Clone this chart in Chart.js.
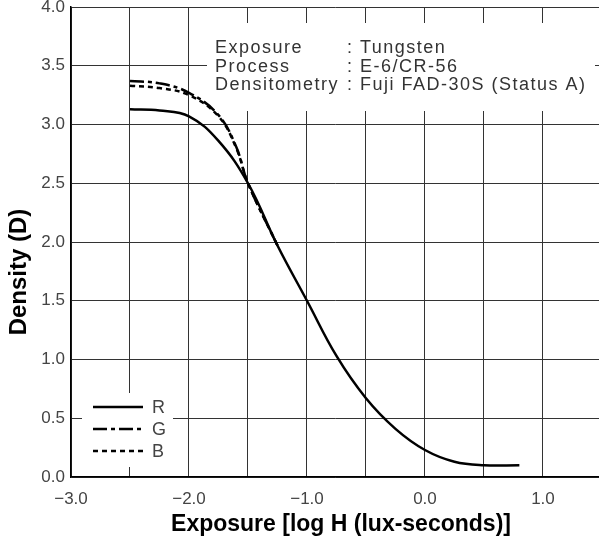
<!DOCTYPE html>
<html>
<head>
<meta charset="utf-8">
<script src="https://cdn.jsdelivr.net/npm/chart.js@4.4.1/dist/chart.umd.min.js"></script>
<style>
  html, body { margin: 0; padding: 0; background: #fff; }
  #wrap { width: 599px; height: 539px; position: relative; }
</style>
</head>
<body>
<div id="wrap"><canvas id="myChart"></canvas></div>
<script>
// characteristic curves
var rExposure = [-2.5, -2.25, -2.0, -1.75, -1.5, -1.25, -1.0, -0.75, -0.5, -0.25, 0.0, 0.25, 0.5, 0.8];
var rDensity  = [3.13, 3.12, 3.07, 2.86, 2.5, 1.97, 1.5, 1.03, 0.67, 0.41, 0.23, 0.13, 0.10, 0.10];
var gExposure = [-2.5, -2.25, -2.0, -1.75, -1.6, -1.5, -1.25];
var gDensity  = [3.37, 3.35, 3.27, 3.08, 2.81, 2.5, 1.97];
var bExposure = [-2.5, -2.25, -2.0, -1.75, -1.6, -1.5, -1.25];
var bDensity  = [3.33, 3.31, 3.25, 3.07, 2.80, 2.5, 1.97];

var seriesNames = ["R", "G", "B"];
var infoKeys = ["Exposure", "Process", "Densitometry"];
var infoValues = ["Tungsten", "E-6/CR-56", "Fuji FAD-30S (Status A)"];

var dashes = [[], [14, 4, 4, 4], [5, 4]];

function pts(xs, ys) {
  return xs.map(function (x, i) { return { x: x, y: ys[i] }; });
}

function fmt(v) {
  var s = Math.abs(v) < 1e-9 ? "0.0" : v.toFixed(1);
  return s.replace("-", "\u2212");
}

// white patches behind the notes and the key, like the printed sheet
var masks = {
  id: "masks",
  beforeDatasetsDraw: function (chart) {
    var ctx = chart.ctx;
    ctx.save();
    ctx.fillStyle = "#fff";
    ctx.fillRect(207, 23, 388, 88);
    ctx.fillRect(82, 393, 91, 74);
    ctx.restore();
  }
};

var texts = {
  id: "texts",
  afterDraw: function (chart) {
    var ctx = chart.ctx;
    ctx.save();
    // notes block
    ctx.fillStyle = "#333";
    ctx.font = "18px 'Liberation Sans', Arial, sans-serif";
    ctx.letterSpacing = "1.5px";
    ctx.textBaseline = "alphabetic";
    for (var i = 0; i < infoKeys.length; i++) {
      var y = 53 + i * 18.5;
      ctx.fillText(infoKeys[i], 215, y);
      ctx.fillText(": " + infoValues[i], 347, y);
    }
    ctx.letterSpacing = "0px";

    // key
    for (var j = 0; j < seriesNames.length; j++) {
      var ly = 407 + j * 22;
      ctx.strokeStyle = "#000";
      ctx.lineWidth = 2.5;
      ctx.setLineDash(dashes[j]);
      ctx.beginPath();
      ctx.moveTo(93, ly);
      ctx.lineTo(143, ly);
      ctx.stroke();
      ctx.setLineDash([]);
      ctx.fillStyle = "#444";
      ctx.font = "18px 'Liberation Sans', Arial, sans-serif";
      ctx.textBaseline = "middle";
      ctx.fillText(seriesNames[j], 152, ly + 1);
    }

    // axis titles
    ctx.fillStyle = "#000";
    ctx.textAlign = "center";
    ctx.textBaseline = "alphabetic";
    ctx.font = "bold 23px 'Liberation Sans', Arial, sans-serif";
    ctx.fillText("Exposure [log H (lux-seconds)]", 341, 531);
    ctx.translate(26, 272);
    ctx.rotate(-Math.PI / 2);
    ctx.font = "bold 24px 'Liberation Sans', Arial, sans-serif";
    ctx.fillText("Density (D)", 0, 0);
    ctx.restore();
  }
};

new Chart("myChart", {
  type: "scatter",
  data: {
    datasets: [
      { label: "R", data: pts(rExposure, rDensity), order: 0 },
      { label: "G", data: pts(gExposure, gDensity), order: 1 },
      { label: "B", data: pts(bExposure, bDensity), order: 2 }
    ].map(function (d, i) {
      d.showLine = true;
      d.pointRadius = 0;
      d.borderColor = "#000";
      d.borderWidth = 2.5;
      d.borderDash = dashes[i];
      d.tension = 0.4;
      return d;
    })
  },
  options: {
    responsive: true,
    maintainAspectRatio: false,
    animation: false,
    layout: { padding: { top: 7, left: 0, right: 0, bottom: 0 } },
    plugins: {
      legend: { display: false },
      tooltip: { enabled: false }
    },
    scales: {
      x: {
        type: "linear",
        min: -3.0,
        max: 1.475,
        afterBuildTicks: function (scale) {
          var t = [];
          for (var v = -3.0; v <= 1.01; v += 0.5) t.push({ value: Math.round(v * 10) / 10 });
          scale.ticks = t;
        },
        afterFit: function (scale) {
          scale.height = 62;
          scale.paddingLeft = 0;
          scale.paddingRight = 0;
        },
        ticks: {
          autoSkip: false,
          maxRotation: 0,
          padding: 12,
          color: "#444",
          font: { family: "'Liberation Sans', Arial, sans-serif", size: 17 },
          callback: function (v) {
            return Math.abs(v - Math.round(v)) < 1e-6 ? fmt(v) : "";
          }
        },
        grid: { color: "#333", lineWidth: 1, drawTicks: false },
        border: { display: true, color: "#000", width: 1.5 }
      },
      y: {
        min: 0,
        max: 4.0,
        afterBuildTicks: function (scale) {
          var t = [];
          for (var v = 0; v <= 4.01; v += 0.5) t.push({ value: Math.round(v * 10) / 10 });
          scale.ticks = t;
        },
        afterFit: function (scale) {
          scale.width = 71;
          scale.paddingTop = 0;
          scale.paddingBottom = 0;
        },
        ticks: {
          padding: 6,
          color: "#444",
          font: { family: "'Liberation Sans', Arial, sans-serif", size: 17 },
          callback: function (v) { return fmt(v); }
        },
        grid: { color: "#333", lineWidth: 1, drawTicks: false },
        border: { display: true, color: "#000", width: 1.5 }
      }
    }
  },
  plugins: [masks, texts]
});
</script>
</body>
</html>
